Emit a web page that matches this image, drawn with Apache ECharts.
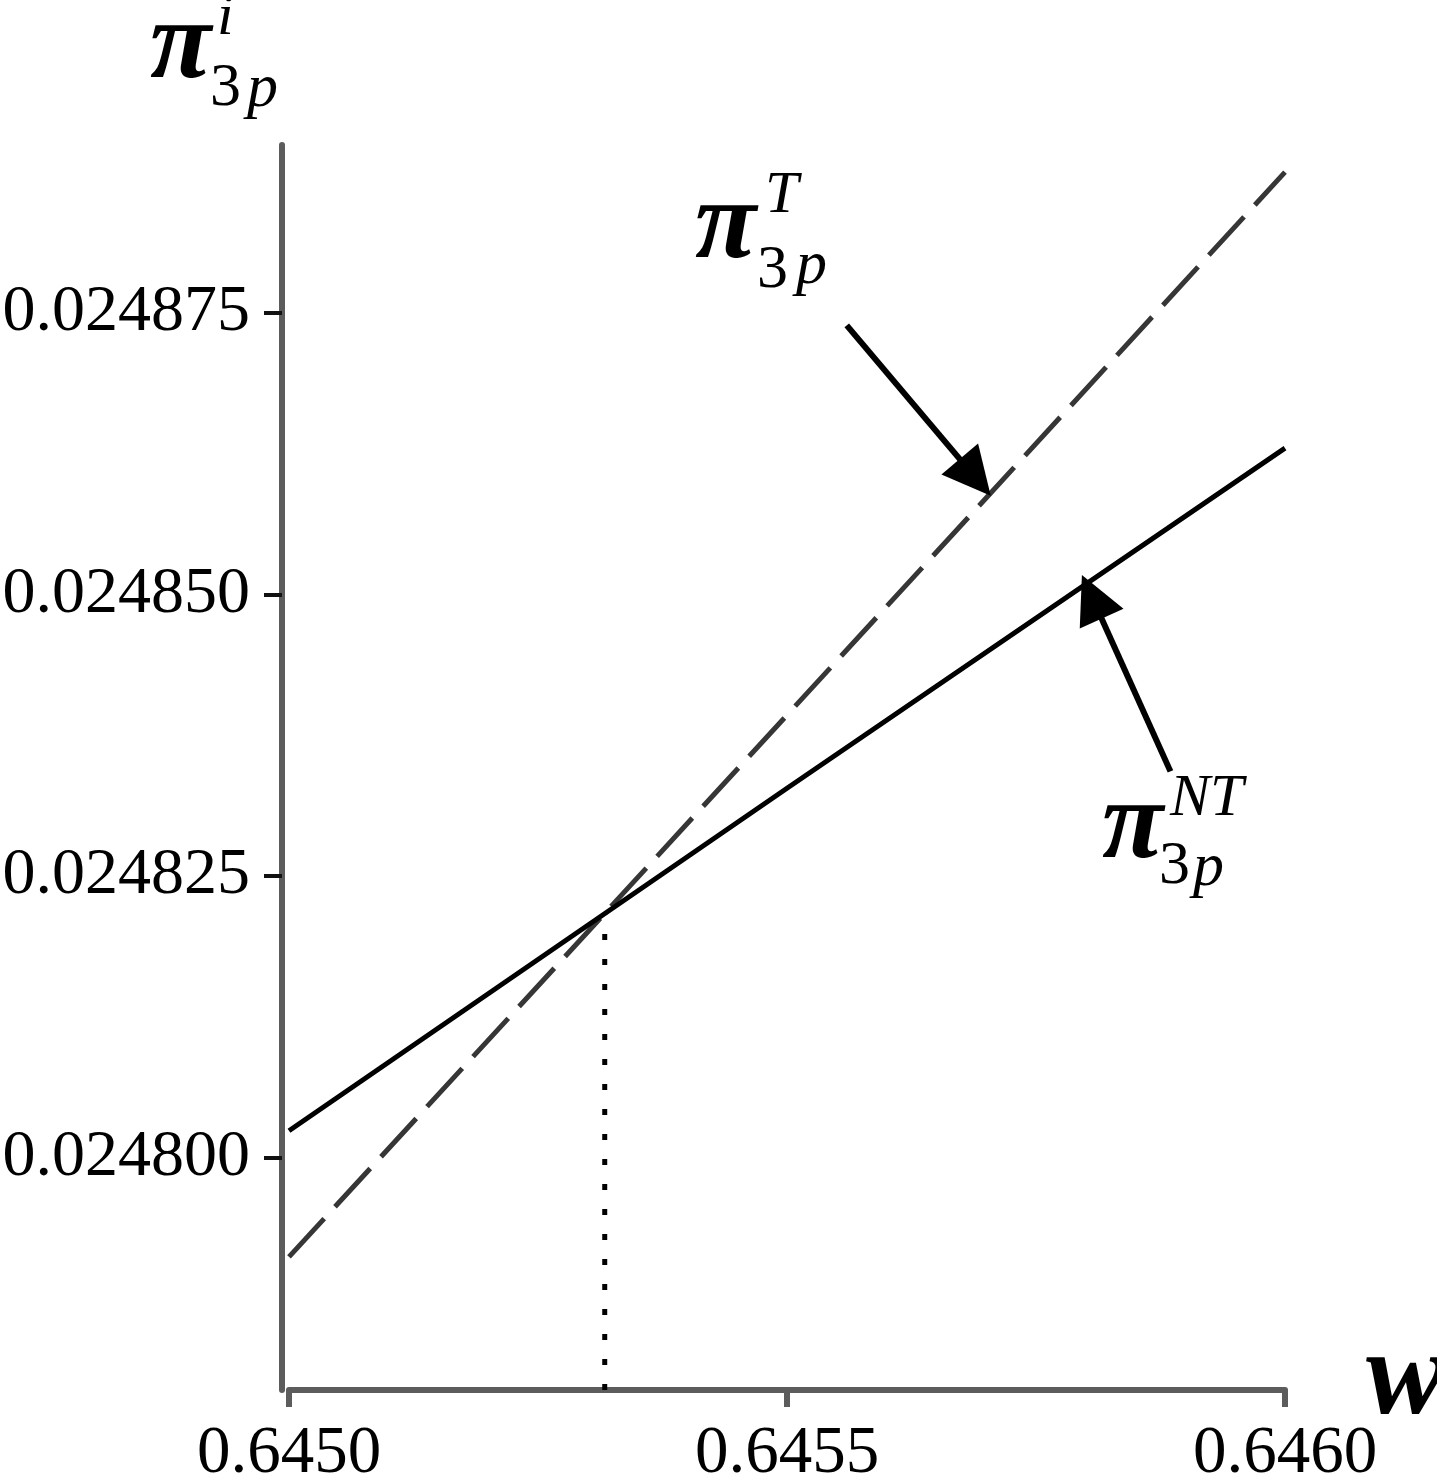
<!DOCTYPE html>
<html>
<head>
<meta charset="utf-8">
<script src="https://cdn.jsdelivr.net/npm/echarts@6/dist/echarts.min.js"></script>
<style>
html,body{margin:0;padding:0;background:#fff;}
#chart{width:1437px;height:1476px;}
</style>
</head>
<body>
<div id="chart"></div>
<script>
// ---- data ----
var wValues = [0.6450, 0.6455, 0.6460];
var piNT = [0.0248024, 0.0248328, 0.0248630];   // solid line
var piT  = [0.0247912, 0.0248393, 0.0248875];   // dashed line
var wStar = 0.645317;        // crossing point
var piStar = 0.0248217;
var xTicks = [0.6450, 0.6455, 0.6460];
var yTicks = [0.024800, 0.024825, 0.024850, 0.024875];
var yMin = 0.02477938, yMax = 0.02488991;
// arrows: [tail, head]
var arrowT  = [[0.645560, 0.0248739], [0.645689, 0.0248604]];
var arrowNT = [[0.645885, 0.0248343], [0.645806, 0.0248498]];

var FONT = '"Liberation Serif", "Times New Roman", serif';

function pairs(xs, ys){ return xs.map(function(x,i){ return [x, ys[i]]; }); }

var chart = echarts.init(document.getElementById('chart'), null, {renderer:'canvas'});

function txt(str, x, baseline, size, opts){
  opts = opts || {};
  return {
    type:'text', silent:true, z:100,
    style:{
      text:str, x:x, y:baseline - 0.34*size,
      font:(opts.style||'normal') + ' ' + (opts.weight||'normal') + ' ' + size + 'px ' + FONT,
      fill:'#000', align:'left', verticalAlign:'middle'
    }
  };
}
function piLabel(px, pBase, sup, supX, supBase, subX, subBase, pX, pBase2){
  return [
    txt('\u03C0', px, pBase, 112, {weight:'bold', style:'italic'}),
    txt(sup, supX, supBase, 60, {style:'italic'}),
    txt('3', subX, subBase, 62),
    txt('p', pX, pBase2, 62, {style:'italic'})
  ];
}

var graphics = []
  .concat(piLabel(150, 86, 'i', 217, 39, 210, 110, 247, 111))
  .concat(piLabel(695, 266, 'T', 765, 217, 757, 292, 796, 288))
  .concat(piLabel(1102, 866, 'NT', 1170, 820, 1159, 888, 1193, 890))
  .concat([txt('w', 1366, 1423, 120, {weight:'bold', style:'italic'})]);

var option = {
  animation:false,
  backgroundColor:'#fff',
  grid:{left:289, right:152, top:145, bottom:86, containLabel:false, outerBoundsMode:'none'},
  xAxis:{
    type:'value', min:0.6450, max:0.6460,
    axisLine:{show:true, onZero:false, lineStyle:{color:'#5c5c5c', width:6}},
    axisTick:{show:true, length:17, customValues:xTicks, lineStyle:{color:'#5c5c5c', width:6}},
    axisLabel:{show:true, customValues:xTicks, margin:31, color:'#000', fontFamily:FONT, fontSize:67,
      formatter:function(v){ return v.toFixed(4); }},
    splitLine:{show:false}
  },
  yAxis:{
    type:'value', min:yMin, max:yMax, offset:7,
    axisLine:{show:true, onZero:false, lineStyle:{color:'#5c5c5c', width:6}},
    axisTick:{show:true, length:18, customValues:yTicks, lineStyle:{color:'#111', width:4}},
    axisLabel:{show:true, customValues:yTicks, margin:32, color:'#000', fontFamily:FONT, fontSize:66,
      formatter:function(v){ return v.toFixed(6); }},
    splitLine:{show:false}
  },
  series:[
    {
      name:'T', type:'line', data:pairs(wValues, piT), showSymbol:false, symbol:'none',
      lineStyle:{color:'#363636', width:5, type:[52,16], cap:'butt'}, z:3
    },
    {
      name:'NT', type:'line', data:pairs(wValues, piNT), showSymbol:false, symbol:'none',
      lineStyle:{color:'#000', width:5}, z:4
    },
    {
      name:'cross', type:'line', data:[[wStar, yMin],[wStar, piStar]], showSymbol:false, symbol:'none',
      lineStyle:{color:'#000', width:5, type:[6,19], cap:'butt'}, z:2,
      markLine:{
        silent:true, animation:false,
        symbol:['none','triangle'], symbolSize:48,
        label:{show:false},
        lineStyle:{color:'#000', width:6, type:'solid'},
        emphasis:{disabled:true},
        data:[
          [{coord:arrowT[0]},{coord:arrowT[1]}],
          [{coord:arrowNT[0]},{coord:arrowNT[1]}]
        ]
      }
    }
  ],
  graphic:graphics
};
chart.setOption(option);
</script>
</body>
</html>
